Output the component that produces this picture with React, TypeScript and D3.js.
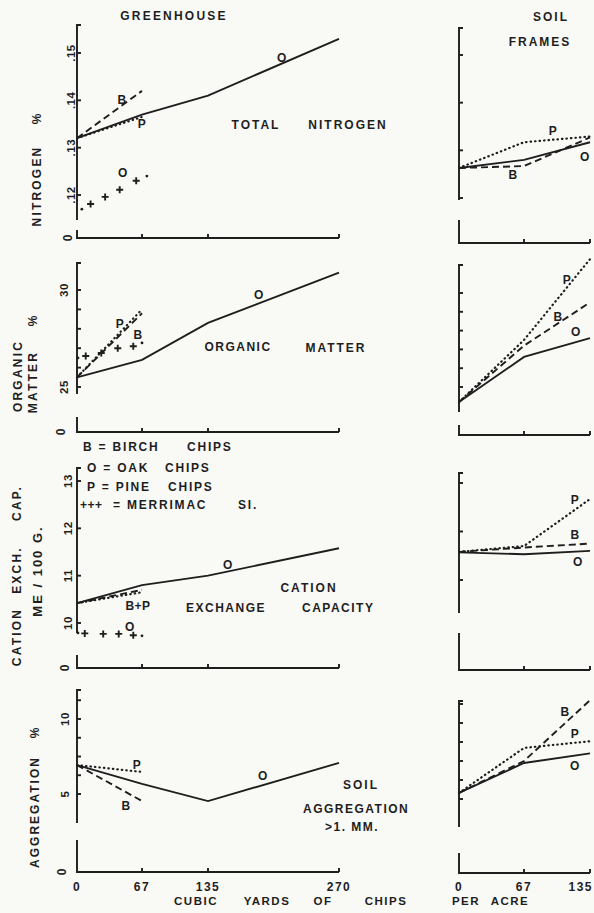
import React, { useRef, useEffect } from 'react';
import { select, scaleLinear, line } from 'd3';

// chips applied, cubic yards per acre
const ghChips = [0, 67, 135, 270];
const frChips = [0, 67, 135];
const ghTickLabels = ['0', '67', '135', '270'];
const frTickLabels = ['0', '67', '135'];

// greenhouse
const ghNitrogenOak = [0.132, 0.137, 0.141, 0.153];
const ghNitrogenBirch = [0.132, 0.142];
const ghNitrogenPine = [0.132, 0.1365];
const ghNitrogenMerX = [5, 14, 29, 44, 61, 72];
const ghNitrogenMer = [0.117, 0.1181, 0.1196, 0.1211, 0.123, 0.124];

const ghOrganicOak = [25.5, 26.4, 28.3, 30.9];
const ghOrganicBirch = [25.5, 28.8];
const ghOrganicPine = [25.5, 29.0];
const ghOrganicMerX = [1, 9, 25, 42, 58, 67];
const ghOrganicMer = [26.5, 26.6, 26.75, 27.0, 27.1, 27.27];

const ghCecOak = [10.42, 10.8, 11.0, 11.58];
const ghCecBirch = [10.42, 10.7];
const ghCecPine = [10.42, 10.65];
const ghCecMerX = [1, 8, 27, 43, 58, 67];
const ghCecMer = [9.79, 9.78, 9.77, 9.77, 9.74, 9.73];

const ghAggOak = [6.93, 5.67, 4.53, 7.07];
const ghAggBirch = [6.93, 4.53];
const ghAggPine = [6.93, 6.47];

// soil frames
const frNitrogenOak = [0.1263, 0.128, 0.1317];
const frNitrogenBirch = [0.1263, 0.1267, 0.1327];
const frNitrogenPine = [0.1263, 0.1317, 0.1329];

const frOrganicOak = [24.2, 26.6, 27.6];
const frOrganicBirch = [24.2, 27.2, 29.5];
const frOrganicPine = [24.2, 27.5, 31.8];

const frCecOak = [11.57, 11.53, 11.6];
const frCecBirch = [11.58, 11.67, 11.75];
const frCecPine = [11.58, 11.7, 12.67];

const frAggOak = [5.4, 7.37, 8.0];
const frAggBirch = [5.4, 7.5, 11.5];
const frAggPine = [5.4, 8.36, 8.8];

// y ticks
const nitrogenTicks = [0.12, 0.13, 0.14, 0.15];
const nitrogenLabels = ['.12', '.13', '.14', '.15'];
const organicTicks = [25, 26, 27, 28, 29, 30];
const organicLabels = ['25', '', '', '', '', '30'];
const cecTicks = [10, 11, 12, 13];
const cecLabels = ['10', '11', '12', '13'];
const aggTicks = [5, 6.25, 7.5, 8.75, 10, 11.25];
const aggLabels = ['5', '', '', '', '10', ''];

const INK = '#1e1e1e';
const FONT = "'Liberation Sans', Arial, sans-serif";

const ghLayout = [
  { d: [0.12, 0.15], r: [195, 53], top: 25, bottom: 220, stub: 230, base: 238, lx: 71 },
  { d: [25, 30], r: [387, 290], top: 263, bottom: 394, stub: 417, base: 432, lx: 64 },
  { d: [10, 13], r: [623, 481], top: 468, bottom: 633, stub: 655, base: 668, lx: 68 },
  { d: [5, 10], r: [794, 719], top: 690, bottom: 823, stub: 840, base: 872, lx: 65 },
];
const frLayout = [
  { d: [0.12, 0.15], r: [198, 55], top: 28, bottom: 200, stub: 220, base: 243 },
  { d: [25, 30], r: [387, 293], top: 265, bottom: 412, stub: 425, base: 435 },
  { d: [11, 13], r: [580, 483], top: 473, bottom: 613, stub: 633, base: 670 },
  { d: [5, 10], r: [799, 723], top: 701, bottom: 827, stub: 853, base: 873 },
];

export default function App() {
  const svgRef = useRef(null);

  useEffect(() => {
    const svg = select(svgRef.current);
    svg.selectAll('*').remove();
    svg.append('rect').attr('width', 594).attr('height', 913).attr('fill', '#f9f9f6');

    const xGh = scaleLinear().domain([0, 270]).range([77, 339]);
    const xFr = scaleLinear().domain([0, 135]).range([459, 590]);

    const text = (t, x, y, opts: any = {}) => {
      const el = svg
        .append('text')
        .attr('x', x)
        .attr('y', y)
        .attr('fill', INK)
        .attr('font-family', FONT)
        .attr('font-weight', 'bold')
        .attr('font-size', opts.size || 12)
        .attr('letter-spacing', opts.ls ?? 2)
        .attr('text-anchor', opts.anchor || 'middle')
        .attr('dominant-baseline', 'central')
        .text(t);
      if (opts.rotate) el.attr('transform', `rotate(-90 ${x} ${y})`);
      return el;
    };

    const drawSeries = (x, y, xs, ys, style) => {
      const pts = ys.map((v, i) => [x(xs[i]), y(v)]);
      const p = svg
        .append('path')
        .attr('d', line()(pts))
        .attr('fill', 'none')
        .attr('stroke', INK)
        .attr('stroke-width', 1.9);
      if (style === 'dash') p.attr('stroke-dasharray', '7,4');
      if (style === 'dot') p.attr('stroke-dasharray', '0.5,4').attr('stroke-linecap', 'round').attr('stroke-width', 2.2);
    };

    const drawMerrimac = (x, y, xs, ys) => {
      ys.forEach((v, i) => {
        const cx = x(xs[i]);
        const cy = y(v);
        if (i === 0 || i === ys.length - 1) {
          svg.append('circle').attr('cx', cx).attr('cy', cy).attr('r', 1.4).attr('fill', INK);
        } else {
          svg
            .append('path')
            .attr('d', `M${cx - 3.5},${cy}H${cx + 3.5}M${cx},${cy - 3.5}V${cy + 3.5}`)
            .attr('stroke', INK)
            .attr('stroke-width', 1.9);
        }
      });
    };

    const drawFrame = (x, lay, ticks, labels, chips, showLabels) => {
      const y = scaleLinear().domain(lay.d).range(lay.r);
      const x0 = x(0);
      const xEnd = x(chips[chips.length - 1]);
      const g = svg.append('g').attr('stroke', INK).attr('stroke-width', 1.9).attr('fill', 'none');
      // upper axis segment
      g.append('path').attr('d', `M${x0 + 4},${lay.top}H${x0}V${lay.bottom}`);
      ticks.forEach(t => {
        g.append('line').attr('x1', x0).attr('x2', x0 + 4).attr('y1', y(t)).attr('y2', y(t));
      });
      // broken stub and baseline
      g.append('path').attr('d', `M${x0},${lay.stub}V${lay.base}H${xEnd}`);
      chips.forEach((c, i) => {
        if (i === 0) return;
        g.append('line').attr('x1', x(c)).attr('x2', x(c)).attr('y1', lay.base).attr('y2', lay.base - 4);
      });
      if (showLabels) {
        ticks.forEach((t, i) => {
          if (labels[i]) text(labels[i], lay.lx, y(t), { rotate: true, ls: 0.5, size: 11.5 });
        });
        text('0', lay.lx - 3, lay.base, { rotate: true, ls: 0, size: 12 });
      }
      return y;
    };

    const rows = [
      { ticks: nitrogenTicks, labels: nitrogenLabels, gh: [ghNitrogenOak, ghNitrogenBirch, ghNitrogenPine], fr: [frNitrogenOak, frNitrogenBirch, frNitrogenPine], mer: [ghNitrogenMerX, ghNitrogenMer] },
      { ticks: organicTicks, labels: organicLabels, gh: [ghOrganicOak, ghOrganicBirch, ghOrganicPine], fr: [frOrganicOak, frOrganicBirch, frOrganicPine], mer: [ghOrganicMerX, ghOrganicMer] },
      { ticks: cecTicks, labels: cecLabels, frTicks: [11, 12, 13], gh: [ghCecOak, ghCecBirch, ghCecPine], fr: [frCecOak, frCecBirch, frCecPine], mer: [ghCecMerX, ghCecMer] },
      { ticks: aggTicks, labels: aggLabels, gh: [ghAggOak, ghAggBirch, ghAggPine], fr: [frAggOak, frAggBirch, frAggPine], mer: null },
    ];

    rows.forEach((row, i) => {
      const yG = drawFrame(xGh, ghLayout[i], row.ticks, row.labels, ghChips, true);
      const yF = drawFrame(xFr, frLayout[i], row.frTicks || row.ticks, row.labels, frChips, false);
      drawSeries(xGh, yG, ghChips, row.gh[0], 'solid');
      drawSeries(xGh, yG, ghChips, row.gh[1], 'dash');
      drawSeries(xGh, yG, ghChips, row.gh[2], 'dot');
      if (row.mer) drawMerrimac(xGh, yG, row.mer[0], row.mer[1]);
      drawSeries(xFr, yF, frChips, row.fr[0], 'solid');
      drawSeries(xFr, yF, frChips, row.fr[1], 'dash');
      drawSeries(xFr, yF, frChips, row.fr[2], 'dot');
    });

    // x tick labels
    ghChips.forEach((c, i) => text(ghTickLabels[i], xGh(c), 887, { ls: 1.5 }));
    frChips.forEach((c, i) =>
      text(frTickLabels[i], i === frChips.length - 1 ? 593 : xFr(c), 887, { ls: 1.5, anchor: i === frChips.length - 1 ? 'end' : 'middle' })
    );
    [['CUBIC', 196], ['YARDS', 267], ['OF', 323], ['CHIPS', 386], ['PER', 466], ['ACRE', 510]].forEach(([t, x]) =>
      text(t, x, 901, { size: 11.5, ls: 1.5 })
    );

    // headings
    text('GREENHOUSE', 174, 16, { ls: 2.2 });
    text('SOIL', 551, 17);
    text('FRAMES', 540, 42);

    // y titles
    text('NITROGEN', 37, 186, { rotate: true, ls: 2.2 });
    text('%', 37, 118, { rotate: true });
    text('ORGANIC', 18, 376, { rotate: true, ls: 2.2 });
    text('MATTER', 33, 382, { rotate: true, ls: 2.2 });
    text('%', 33, 320, { rotate: true });
    text('CATION', 17, 637, { rotate: true, ls: 2.2 });
    text('EXCH.', 17, 570, { rotate: true, ls: 2.2 });
    text('CAP.', 17, 503, { rotate: true, ls: 2.2 });
    text('ME / 100 G.', 37, 571, { rotate: true, ls: 2, size: 13 });
    text('AGGREGATION', 35, 812, { rotate: true, ls: 2 });
    text('%', 35, 732, { rotate: true });

    // panel titles
    text('TOTAL', 256, 125);
    text('NITROGEN', 348, 125);
    text('ORGANIC', 238, 347, { ls: 1.5 });
    text('MATTER', 336, 348);
    text('CATION', 309, 588);
    text('EXCHANGE', 226, 608, { ls: 1.5 });
    text('CAPACITY', 302, 608, { anchor: 'start', ls: 1.5 });
    text('SOIL', 343, 785, { anchor: 'start' });
    text('AGGREGATION', 303, 809, { anchor: 'start', ls: 1.5 });
    text('>1. MM.', 325, 827, { anchor: 'start', ls: 1.5 });

    // legend
    text('B = BIRCH', 83, 447, { anchor: 'start', ls: 1.8 });
    text('CHIPS', 187, 447, { anchor: 'start', ls: 1.8 });
    text('O = OAK', 87, 468, { anchor: 'start', ls: 1.8 });
    text('CHIPS', 165, 468, { anchor: 'start', ls: 1.8 });
    text('P = PINE', 87, 487, { anchor: 'start', ls: 1.8 });
    text('CHIPS', 168, 487, { anchor: 'start', ls: 1.8 });
    text('+++', 80, 505, { anchor: 'start', ls: 0.5 });
    text('= MERRIMAC', 113, 505, { anchor: 'start', ls: 1.8 });
    text('SI.', 238, 505, { anchor: 'start', ls: 1.8 });

    // series letters
    const letters = [
      ['B', 122, 100], ['P', 142, 124], ['O', 123, 173], ['O', 282, 58],
      ['P', 120, 324], ['B', 138, 335], ['O', 259, 295],
      ['O', 228, 565], ['B+P', 138, 606], ['O', 130, 627],
      ['P', 137, 765], ['B', 126, 806], ['O', 263, 776],
      ['P', 553, 131], ['B', 513, 175], ['O', 585, 157],
      ['P', 567, 280], ['B', 558, 317], ['O', 576, 332],
      ['P', 575, 500], ['B', 575, 535], ['O', 578, 562],
      ['B', 565, 712], ['P', 575, 734], ['O', 575, 766],
    ];
    letters.forEach(([t, x, y]) => text(t, x, y, { ls: 0.5 }));
  }, []);

  return (
    <svg
      ref={svgRef}
      xmlns="http://www.w3.org/2000/svg"
      width="594"
      height="913"
      viewBox="0 0 594 913"
      style={{ position: 'absolute', left: 0, top: 0 }}
    />
  );
}
